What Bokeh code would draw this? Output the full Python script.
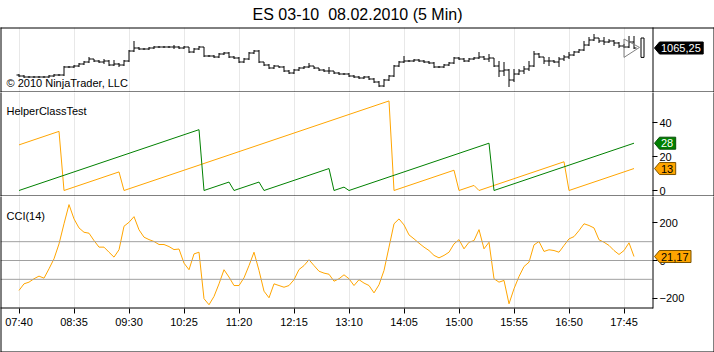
import numpy as np
from bokeh.plotting import figure
from bokeh.layouts import column
from bokeh.models import Range1d, LinearAxis, FixedTicker, Span, Label
from bokeh.core.properties import value
from bokeh.embed import file_html
from bokeh.resources import INLINE

# ---------------- data ----------------
TITLE = "ES 03-10\u00a0 08.02.2010 (5 Min)"
COPYRIGHT = "\u00a9 2010 NinjaTrader, LLC"
PANEL2_NAME = "HelperClassTest"
PANEL3_NAME = "CCI(14)"

# bar index of each time label (5-minute bars starting 07:40)
TIME_TICKS = [0, 11, 22, 33, 44, 55, 66, 77, 88, 99, 110, 121]
TIME_LABELS = ["07:40", "08:35", "09:30", "10:25", "11:20", "12:15",
               "13:10", "14:05", "15:00", "15:55", "16:50", "17:45"]

OPEN = [
    1058.5, 1058.25, 1058.0, 1058.0, 1058.0, 1058.0, 1058.0, 1058.25, 1058.5, 1058.5,
    1060.5, 1060.5, 1060.75, 1061.25, 1061.75, 1062.5, 1062.0, 1061.75, 1062.0, 1061.0,
    1061.25, 1061.0, 1062.0, 1064.5, 1065.25, 1065.0, 1065.0, 1065.25, 1065.5, 1065.5,
    1065.5, 1065.5, 1065.5, 1065.25, 1065.5, 1064.25, 1065.0, 1065.5, 1063.25, 1063.25,
    1063.0, 1063.75, 1064.0, 1063.0, 1062.75, 1061.75, 1062.5, 1064.0, 1064.5, 1061.75,
    1061.0, 1060.25, 1060.75, 1060.5, 1059.5, 1059.0, 1059.75, 1060.25, 1060.5, 1060.75,
    1060.25, 1059.75, 1059.5, 1059.5, 1059.0, 1058.75, 1058.75, 1058.25, 1058.0, 1057.75,
    1058.0, 1057.5, 1056.75, 1055.75, 1057.25, 1058.25, 1060.75, 1061.75, 1062.0, 1062.0,
    1062.25, 1062.0, 1061.75, 1061.5, 1060.5, 1060.5, 1061.0, 1061.5, 1062.75, 1062.5,
    1062.0, 1062.5, 1062.75, 1063.0, 1062.5, 1062.75, 1060.75, 1059.5, 1059.75, 1057.25,
    1058.75, 1059.5, 1060.0, 1060.75, 1063.75, 1063.0, 1062.0, 1062.0, 1061.75, 1062.5,
    1063.0, 1063.5, 1064.25, 1064.75, 1066.0, 1067.25, 1067.75, 1067.0, 1066.75, 1067.0,
    1066.5, 1065.75, 1065.5, 1066.75,
]
HIGH = [
    1058.75, 1058.5, 1058.25, 1058.25, 1058.25, 1058.25, 1058.5, 1058.75, 1058.75, 1060.75,
    1060.75, 1061.0, 1061.5, 1062.0, 1063.0, 1062.5, 1062.25, 1062.5, 1062.25, 1062.25,
    1061.5, 1062.25, 1064.75, 1067.0, 1065.5, 1065.25, 1065.5, 1065.75, 1065.75, 1065.75,
    1065.75, 1066.0, 1065.75, 1065.75, 1065.5, 1065.25, 1065.75, 1065.5, 1063.5, 1063.5,
    1064.0, 1064.25, 1064.25, 1063.25, 1063.0, 1062.75, 1064.25, 1064.75, 1064.75, 1061.75,
    1061.25, 1061.0, 1060.75, 1060.75, 1059.75, 1060.0, 1060.5, 1060.75, 1061.5, 1060.75,
    1060.25, 1060.0, 1060.5, 1059.5, 1059.25, 1059.0, 1059.0, 1058.5, 1058.25, 1058.25,
    1058.25, 1057.75, 1057.0, 1057.5, 1058.5, 1061.0, 1062.0, 1063.25, 1062.25, 1062.5,
    1062.5, 1062.25, 1062.0, 1061.75, 1060.75, 1061.25, 1061.75, 1063.0, 1063.0, 1062.75,
    1062.75, 1063.0, 1064.25, 1063.25, 1063.75, 1062.75, 1062.0, 1061.75, 1060.0, 1060.0,
    1060.0, 1060.75, 1062.0, 1064.5, 1064.0, 1063.0, 1063.0, 1062.25, 1063.0, 1063.5,
    1064.25, 1064.5, 1065.0, 1067.0, 1068.0, 1068.75, 1067.75, 1068.0, 1067.5, 1067.25,
    1066.75, 1066.25, 1068.25, 1068.25,
]
LOW = [
    1058.0, 1057.75, 1057.75, 1057.75, 1057.75, 1057.75, 1057.75, 1058.0, 1058.25, 1058.25,
    1060.25, 1060.25, 1060.5, 1061.0, 1061.5, 1061.75, 1061.5, 1061.25, 1060.75, 1060.75,
    1060.5, 1060.75, 1061.75, 1064.25, 1064.75, 1064.75, 1064.75, 1065.0, 1065.25, 1065.25,
    1065.25, 1065.0, 1065.0, 1065.0, 1064.0, 1064.0, 1064.75, 1063.0, 1063.0, 1062.75,
    1062.75, 1063.5, 1062.75, 1062.5, 1061.5, 1061.5, 1062.25, 1063.75, 1061.5, 1060.75,
    1060.0, 1060.0, 1060.25, 1059.25, 1058.75, 1058.75, 1059.5, 1060.0, 1060.25, 1060.0,
    1059.5, 1059.25, 1058.75, 1058.75, 1058.5, 1058.5, 1058.0, 1057.75, 1057.5, 1057.5,
    1057.25, 1056.5, 1055.5, 1055.5, 1057.0, 1058.0, 1060.5, 1061.5, 1061.75, 1061.75,
    1061.75, 1061.5, 1061.25, 1060.25, 1060.25, 1060.25, 1060.75, 1061.25, 1062.25, 1061.75,
    1061.75, 1062.25, 1062.5, 1062.25, 1061.75, 1060.5, 1058.0, 1058.25, 1055.5, 1056.75,
    1058.5, 1058.75, 1059.5, 1060.5, 1062.75, 1061.25, 1060.75, 1061.5, 1060.5, 1062.0,
    1062.5, 1063.25, 1064.0, 1064.5, 1065.75, 1067.0, 1066.5, 1066.0, 1066.5, 1065.75,
    1065.25, 1065.25, 1065.25, 1065.0,
]
CLOSE = [
    1058.25, 1058.0, 1058.0, 1058.0, 1058.0, 1058.0, 1058.25, 1058.5, 1058.5, 1060.5,
    1060.5, 1060.75, 1061.25, 1061.75, 1062.5, 1062.0, 1061.75, 1062.0, 1061.0, 1061.25,
    1061.0, 1062.0, 1064.5, 1065.25, 1065.0, 1065.0, 1065.25, 1065.5, 1065.5, 1065.5,
    1065.5, 1065.5, 1065.25, 1065.5, 1064.25, 1065.0, 1065.5, 1063.25, 1063.25, 1063.0,
    1063.75, 1064.0, 1063.0, 1062.75, 1061.75, 1062.5, 1064.0, 1064.5, 1061.75, 1061.0,
    1060.25, 1060.75, 1060.5, 1059.5, 1059.0, 1059.75, 1060.25, 1060.5, 1060.75, 1060.25,
    1059.75, 1059.5, 1059.5, 1059.0, 1058.75, 1058.75, 1058.25, 1058.0, 1057.75, 1058.0,
    1057.5, 1056.75, 1055.75, 1057.25, 1058.25, 1060.75, 1061.75, 1062.0, 1062.0, 1062.25,
    1062.0, 1061.75, 1061.5, 1060.5, 1060.5, 1061.0, 1061.5, 1062.75, 1062.5, 1062.0,
    1062.5, 1062.75, 1063.0, 1062.5, 1062.75, 1060.75, 1059.5, 1059.75, 1057.25, 1058.75,
    1059.5, 1060.0, 1060.75, 1063.75, 1063.0, 1062.0, 1062.0, 1061.75, 1062.5, 1063.0,
    1063.5, 1064.25, 1064.75, 1066.0, 1067.25, 1067.75, 1067.0, 1066.75, 1067.0, 1066.5,
    1065.75, 1065.5, 1066.75, 1065.25,
]

HELPER_ORANGE = [
    27, 28, 29, 30, 31, 32, 33, 34, 35,
    0, 1, 2, 3, 4, 5, 6, 7, 8, 9, 10, 11,
    0, 1, 2, 3, 4, 5, 6, 7, 8, 9, 10, 11, 12, 13, 14, 15, 16, 17, 18, 19, 20,
    21, 22, 23, 24, 25, 26, 27, 28, 29, 30, 31, 32, 33, 34, 35, 36, 37, 38, 39,
    40, 41, 42, 43, 44, 45, 46, 47, 48, 49, 50, 51, 52, 53,
    0, 1, 2, 3, 4, 5, 6, 7, 8, 9, 10, 11, 12,
    0, 1, 2, 3,
    0, 1, 2, 3, 4, 5, 6, 7, 8, 9, 10, 11, 12, 13, 14, 15, 16, 17,
    0, 1, 2, 3, 4, 5, 6, 7, 8, 9, 10, 11, 12, 13,
]
HELPER_GREEN = [
    0, 1, 2, 3, 4, 5, 6, 7, 8, 9, 10, 11, 12, 13, 14, 15, 16, 17, 18, 19, 20,
    21, 22, 23, 24, 25, 26, 27, 28, 29, 30, 31, 32, 33, 34, 35, 36,
    0, 1, 2, 3, 4, 5,
    0, 1, 2, 3, 4, 5,
    0, 1, 2, 3, 4, 5, 6, 7, 8, 9, 10, 11, 12, 13,
    0, 1, 2,
    0, 1, 2, 3, 4, 5, 6, 7, 8, 9, 10, 11, 12, 13, 14, 15, 16, 17, 18, 19, 20,
    21, 22, 23, 24, 25, 26, 27, 28,
    0, 1, 2, 3, 4, 5, 6, 7, 8, 9, 10, 11, 12, 13, 14, 15, 16, 17, 18, 19, 20,
    21, 22, 23, 24, 25, 26, 27, 28,
]
CCI = [
    -159, -124, -115, -97, -83, -94, -44, 9, 88, 195,
    297, 221, 173, 150, 145, 106, 71, 71, 44, 18,
    57, 182, 203, 233, 163, 124, 111, 101, 85, 85,
    74, 58, 61, -14, -49, 35, 44, -203, -235, -191,
    -124, -49, -88, -133, -133, -92, -27, 44, -53, -163,
    -198, -124, -133, -142, -133, -102, -48, -27, 4, -27,
    -57, -67, -73, -110, -97, -76, -97, -133, -102, -120,
    -133, -172, -129, -53, 71, 195, 221, 189, 136, 115,
    92, 71, 53, 27, 14, 27, 44, 88, 111, 62,
    97, 106, 164, 62, 97, -97, -115, -106, -230, -150,
    -85, -32, -9, 83, 101, 48, 57, 53, 44, 80,
    115, 127, 159, 195, 186, 173, 110, 97, 80, 53,
    32, 53, 94, 21.17,
]
CCI_LEVELS = [100, 0, -100]
HELPER_TICKS = [0, 20, 40]
CCI_TICKS = [-200, 0, 200]

# drawing objects on the price panel (bar index / price)
DRAW_TRI_X = [121, 121, 124.1]
DRAW_TRI_Y = [1067.5, 1062.9, 1065.4]
DRAW_BOX_X = [124.4, 125.0]
DRAW_BOX_Y = [1062.9, 1067.75]

# ---------------- layout ----------------
FONT = "Liberation Sans"
W = 714
FRAME_W = 652
RIGHT = W - FRAME_W
H1, H2, H3 = 92, 104, 156
TOP1 = 27
FH1, FH2, FH3 = 65, 104, 112
BOTTOM3 = H3 - FH3
TICK_HALF = 0.5

ORANGE = "#FFA500"
GREEN = "#008000"

XR = Range1d(-3.7, 126.7)
YR1 = Range1d(1054.125, 1070.375)
YR2 = Range1d(-3.55, 58.0)
YR3 = Range1d(-255, 340)

idx = np.arange(len(CLOSE))


def base_fig(h, yr, top, bottom):
    p = figure(width=W, height=h, x_range=XR, y_range=yr,
               output_backend="svg", toolbar_location=None,
               x_axis_location=None, y_axis_location=None, title_location=None,
               min_border_left=0, min_border_right=RIGHT,
               min_border_top=top, min_border_bottom=bottom)
    p.outline_line_color = None
    p.background_fill_color = "white"
    p.border_fill_color = "white"
    p.xgrid.ticker = FixedTicker(ticks=TIME_TICKS)
    p.xgrid.grid_line_color = "#e8e8e8"
    p.ygrid.grid_line_color = None
    return p


def px_to_data(yr, frame_top, frame_h, px, py):
    sx = (XR.end - XR.start) / FRAME_W
    sy = (yr.end - yr.start) / frame_h
    return XR.start + px * sx, yr.end - (py - frame_top) * sy


def frame_lines(p, yr, frame_top, frame_h, segs):
    a = [px_to_data(yr, frame_top, frame_h, s[0], s[1]) for s in segs]
    b = [px_to_data(yr, frame_top, frame_h, s[2], s[3]) for s in segs]
    r = p.segment(x0=[q[0] for q in a], y0=[q[1] for q in a],
                  x1=[q[0] for q in b], y1=[q[1] for q in b],
                  line_color="black", line_width=1)
    r.level = "overlay"


def text_px(t):
    return sum(6.1 if ch.isdigit() else 3.1 for ch in t)


def add_flag(p, yr, frame_h, yval, txt, fill, txt_color, edge):
    ux = (XR.end - XR.start) / FRAME_W
    uy = (yr.end - yr.start) / frame_h
    tip = XR.end + 2 * ux
    body = XR.end + 7 * ux
    right = body + (text_px(txt) + 4) * ux
    hh = 6 * uy
    r = p.patch([tip, body, right, right, body],
                [yval, yval + hh, yval + hh, yval - hh, yval - hh],
                fill_color=fill, line_color=edge, line_width=1)
    r.level = "overlay"
    t = p.text(x=[body + 1.5 * ux], y=[yval], text=[txt],
               text_font=value(FONT), text_font_size="11px",
               text_baseline="middle", text_align="left", text_color=txt_color)
    t.level = "overlay"


def style_axis(ax):
    ax.axis_line_color = None
    ax.major_tick_line_color = "black"
    ax.major_tick_out = 5
    ax.major_tick_in = 0
    ax.minor_tick_line_color = None
    ax.major_label_text_font = FONT
    ax.major_label_text_font_size = "11px"
    ax.major_label_text_color = "black"
    ax.major_label_standoff = 2


def fmt(v):
    return f"{v:.2f}".replace(".", ",")


# ---- panel 1: price ----
p1 = base_fig(H1, YR1, TOP1, 0)
p1.segment(x0=idx, y0=LOW, x1=idx, y1=HIGH, line_color="black", line_width=1)
p1.segment(x0=idx - TICK_HALF, y0=OPEN, x1=idx, y1=OPEN, line_color="black", line_width=1)
p1.segment(x0=idx, y0=CLOSE, x1=idx + TICK_HALF, y1=CLOSE, line_color="black", line_width=1)
p1.patch(DRAW_TRI_X, DRAW_TRI_Y, fill_color=None, line_color="#808080", line_width=1)
p1.quad(left=[DRAW_BOX_X[0]], right=[DRAW_BOX_X[1]], bottom=[DRAW_BOX_Y[0]], top=[DRAW_BOX_Y[1]],
        fill_color=None, line_color="black", line_width=1)
tx, ty = px_to_data(YR1, TOP1, FH1, W / 2, 14)
tt = p1.text(x=[tx], y=[ty], text=[TITLE], text_font=value(FONT), text_font_size="16px",
             text_align="center", text_baseline="middle", text_color="black")
tt.level = "overlay"
p1.add_layout(Label(x=6, y=10, x_units="screen", y_units="screen", text=COPYRIGHT,
                    text_font=FONT, text_font_size="11px", text_align="left",
                    text_baseline="middle", text_color="black"))
frame_lines(p1, YR1, TOP1, FH1, [
    (0, 27.5, 714, 27.5), (0.5, 27, 0.5, 92), (652.5, 27, 652.5, 92),
    (713.5, 27, 713.5, 92), (0, 91.5, 714, 91.5)])
add_flag(p1, YR1, FH1, CLOSE[-1], fmt(CLOSE[-1]), "black", "white", "black")

# ---- panel 2: HelperClassTest ----
p2 = base_fig(H2, YR2, 0, 0)
p2.line(idx, HELPER_ORANGE, line_color=ORANGE, line_width=1)
p2.line(idx, HELPER_GREEN, line_color=GREEN, line_width=1)
ax2 = LinearAxis(ticker=FixedTicker(ticks=HELPER_TICKS))
style_axis(ax2)
p2.add_layout(ax2, "right")
p2.add_layout(Label(x=6, y=FH2 - 18, x_units="screen", y_units="screen", text=PANEL2_NAME,
                    text_font=FONT, text_font_size="11px", text_align="left",
                    text_baseline="middle", text_color="black"))
frame_lines(p2, YR2, 92, FH2, [
    (0.5, 92, 0.5, 196), (652.5, 92, 652.5, 196), (713.5, 92, 713.5, 196),
    (0, 195.5, 714, 195.5)])
add_flag(p2, YR2, FH2, HELPER_GREEN[-1], str(HELPER_GREEN[-1]), GREEN, "white", "#0b4d0b")
add_flag(p2, YR2, FH2, HELPER_ORANGE[-1], str(HELPER_ORANGE[-1]), ORANGE, "black", "#7a5200")

# ---- panel 3: CCI ----
p3 = base_fig(H3, YR3, 0, BOTTOM3)
for lv in CCI_LEVELS:
    p3.add_layout(Span(location=lv, dimension="width", line_color="#a0a0a0", line_width=1))
p3.line(idx, CCI, line_color=ORANGE, line_width=1)
ax3 = LinearAxis(ticker=FixedTicker(ticks=CCI_TICKS))
style_axis(ax3)
p3.add_layout(ax3, "right")
axx = LinearAxis(ticker=FixedTicker(ticks=TIME_TICKS),
                 major_label_overrides={t: l for t, l in zip(TIME_TICKS, TIME_LABELS)})
style_axis(axx)
axx.major_label_standoff = 2
p3.add_layout(axx, "below")
p3.add_layout(Label(x=6, y=FH3 - 19, x_units="screen", y_units="screen", text=PANEL3_NAME,
                    text_font=FONT, text_font_size="11px", text_align="left",
                    text_baseline="middle", text_color="black"))
frame_lines(p3, YR3, 196, FH3, [
    (0.5, 196, 0.5, 352), (652.5, 196, 652.5, 308), (713.5, 196, 713.5, 352),
    (0, 307.5, 652.5, 307.5), (0, 351.5, 714, 351.5)])
add_flag(p3, YR3, FH3, CCI[-1], fmt(CCI[-1]), ORANGE, "black", "#7a5200")

layout = column(p1, p2, p3, spacing=0)
open("out.html", "w").write(file_html(layout, INLINE))
